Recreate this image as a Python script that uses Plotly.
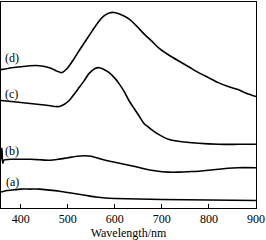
import plotly.graph_objects as go

# Wavelength (nm) and relative absorbance values
wl_d = [358, 380, 400, 420, 440, 461, 475, 487, 500, 512, 524, 538, 552, 565, 577, 588, 598,
        610, 630, 646, 662, 678, 693, 714, 735, 757, 778, 799, 820, 841, 862, 881, 900]
val_d = [1.39, 1.41, 1.42, 1.43, 1.43, 1.41, 1.38, 1.36, 1.41, 1.49, 1.58, 1.68, 1.78, 1.87,
         1.93, 1.96, 1.965, 1.95, 1.90, 1.83, 1.75, 1.68, 1.61, 1.54, 1.48, 1.42, 1.36, 1.31,
         1.26, 1.22, 1.19, 1.15, 1.12]

wl_c = [358, 380, 400, 420, 440, 460, 474, 482, 492, 503, 513, 524, 535, 545, 557, 567, 578,
        588, 599, 609, 620, 630, 641, 651, 662, 672, 683, 693, 714, 735, 778, 820, 862, 900]
val_c = [1.08, 1.07, 1.06, 1.05, 1.04, 1.03, 1.02, 1.02, 1.04, 1.08, 1.14, 1.21, 1.28, 1.35,
         1.40, 1.41, 1.39, 1.36, 1.31, 1.25, 1.17, 1.08, 1.00, 0.93, 0.85, 0.81, 0.77, 0.74,
         0.69, 0.67, 0.65, 0.64, 0.64, 0.64]

wl_b = [358, 359, 360, 361, 362, 364, 380, 400, 420, 440, 461, 480, 500, 520, 535, 550, 565,
        580, 600, 620, 640, 662, 685, 714, 735, 757, 778, 799, 820, 841, 862, 900]
val_b = [0.49, 0.58, 0.60, 0.48, 0.45, 0.48, 0.49, 0.49, 0.49, 0.485, 0.48, 0.49, 0.505,
         0.52, 0.525, 0.52, 0.50, 0.48, 0.46, 0.44, 0.42, 0.395, 0.375, 0.36, 0.36, 0.365,
         0.37, 0.38, 0.39, 0.40, 0.405, 0.405]

wl_a = [358, 370, 380, 400, 420, 440, 461, 480, 500, 520, 540, 560, 580, 600, 650, 700, 800, 900]
val_a = [0.16, 0.175, 0.18, 0.19, 0.19, 0.19, 0.18, 0.17, 0.155, 0.14, 0.125, 0.11, 0.10,
         0.095, 0.09, 0.085, 0.08, 0.075]

labels = ["(a)", "(b)", "(c)", "(d)"]
label_wl = [383, 381, 381, 381]
label_val = [0.26, 0.57, 1.15, 1.51]

tick_vals = [400, 500, 600, 700, 800, 900]

fig = go.Figure()
for wl, val in [(wl_a, val_a), (wl_b, val_b), (wl_c, val_c), (wl_d, val_d)]:
    fig.add_trace(go.Scatter(x=wl, y=val, mode="lines",
                             line=dict(color="black", width=1.6, shape="spline", smoothing=0.6),
                             showlegend=False, hoverinfo="skip"))

for t, x, y in zip(labels, label_wl, label_val):
    fig.add_annotation(x=x, y=y, text=t, showarrow=False,
                       font=dict(family="Liberation Serif, serif", size=12, color="black"))

fig.update_layout(
    width=266, height=240,
    margin=dict(l=1, r=7, t=1, b=32),
    paper_bgcolor="white", plot_bgcolor="white",
    font=dict(family="Liberation Serif, serif", size=12, color="black"),
    xaxis=dict(range=[358, 900.2], tickvals=tick_vals, ticks="inside", ticklen=4,
               tickcolor="black", showline=True, linecolor="black", linewidth=1,
               mirror=True, showgrid=False, zeroline=False, ticklabeloverflow="allow",
               title=dict(text="Wavelength/nm", standoff=2, font=dict(size=12))),
    yaxis=dict(range=[0, 2.07], showticklabels=False, ticks="", showline=True,
               linecolor="black", linewidth=1, mirror=True, showgrid=False, zeroline=False),
)

fig.write_html("out.html")
